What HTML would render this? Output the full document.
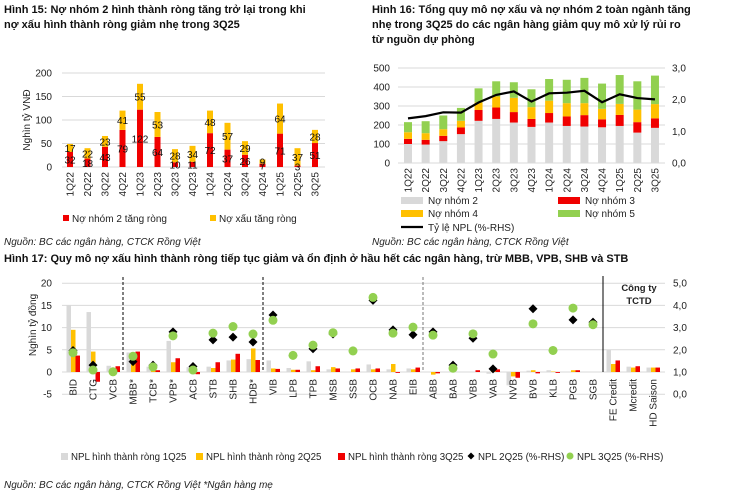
<!DOCTYPE html>
<html><head><meta charset="utf-8"><style>
body{margin:0;background:#fff;width:737px;height:493px;overflow:hidden;font-family:"Liberation Sans",sans-serif}
svg{position:absolute;left:0;top:0}
</style></head><body>
<svg id="s" width="737" height="493" xmlns="http://www.w3.org/2000/svg" font-family="Liberation Sans, sans-serif">
<g font-weight="bold" font-size="11" fill="#111">
<text x="4" y="13">Hình 15: Nợ nhóm 2 hình thành ròng tăng trở lại trong khi</text>
<text x="4" y="28">nợ xấu hình thành ròng giảm nhẹ trong 3Q25</text>
<text x="372" y="13">Hình 16: Tổng quy mô nợ xấu và nợ nhóm 2 toàn ngành tăng</text>
<text x="372" y="28">nhẹ trong 3Q25 do các ngân hàng giảm quy mô xử lý rủi ro</text>
<text x="372" y="43">từ nguồn dự phòng</text>
<text x="4" y="262">Hình 17: Quy mô nợ xấu hình thành ròng tiếp tục giảm và ổn định ở hầu hết các ngân hàng, trừ MBB, VPB, SHB và STB</text>
</g>
<g font-style="italic" font-size="10" fill="#222">
<text x="4" y="245">Nguồn: BC các ngân hàng, CTCK Rồng Việt</text>
<text x="372" y="245">Nguồn: BC các ngân hàng, CTCK Rồng Việt</text>
<text x="4" y="488">Nguồn: BC các ngân hàng, CTCK Rồng Việt *Ngân hàng mẹ</text>
</g>
<g id="g"></g>
</svg>
<script>
var g=document.getElementById('g'),h='';
function R(x,y,w,hh,c){if(hh<0){y+=hh;hh=-hh;}h+='<rect x="'+x+'" y="'+y+'" width="'+w+'" height="'+hh+'" fill="'+c+'"/>';}
function T(x,y,t,o){o=o||{};h+='<text x="'+x+'" y="'+y+'" font-size="'+(o.s||10)+'" fill="'+(o.c||'#222')+'" text-anchor="'+(o.a||'start')+'"'+(o.r?' transform="rotate(-90 '+x+' '+y+')"':'')+(o.b?' font-weight="bold"':'')+'>'+t+'</text>';}
function L(x1,y1,x2,y2,c,w,d){h+='<line x1="'+x1+'" y1="'+y1+'" x2="'+x2+'" y2="'+y2+'" stroke="'+c+'" stroke-width="'+(w||1)+'"'+(d?' stroke-dasharray="'+d+'"':'')+'/>';}
var Q=['1Q22','2Q22','3Q22','4Q22','1Q23','2Q23','3Q23','4Q23','1Q24','2Q24','3Q24','4Q24','1Q25','2Q25','3Q25'];
// chart 15
var y0=167,k=0.47;
for(var i=0;i<=4;i++){var y=y0-i*50*k;L(62,y,325,y,'#d9d9d9');T(52,y+3.5,i*50,{a:'end'});}
T(30,120,'Nghìn tỷ VNĐ',{r:1,a:'middle'});
var r1=[32,18,43,79,122,64,10,11,72,37,26,7,71,3,51],y1=[17,22,23,41,55,53,28,34,48,57,29,9,64,37,28];
for(i=0;i<15;i++){var x=70+i*17.5;R(x-3,y0-r1[i]*k,6,r1[i]*k,'#f00000');R(x-3,y0-(r1[i]+y1[i])*k,6,y1[i]*k,'#ffc000');
T(x,y0-r1[i]*k/2+4,r1[i],{a:'middle',c:'#111'});T(x,y0-(r1[i]+y1[i]/2)*k+4,y1[i],{a:'middle',c:'#111'});
T(x+3.5,172,Q[i],{r:1,a:'end'});}
R(63,215,6,6,'#f00000');T(72,222,'Nợ nhóm 2 tăng ròng');R(210,215,6,6,'#ffc000');T(219,222,'Nợ xấu tăng ròng');
// chart 16
y0=163;k=0.19;
for(i=0;i<=5;i++){y=y0-i*100*k;L(398,y,665,y,'#d9d9d9');T(390,y+3.5,i*100,{a:'end'});}
for(i=0;i<=3;i++){y=y0-i*95/3;T(672,y+3.5,i+',0',{});}
var n2=[100,97,115,152,222,232,213,190,213,195,192,188,195,160,185],n3=[27,25,28,35,57,60,55,42,50,50,60,42,58,55,50],n4=[35,35,35,35,40,58,75,62,65,70,63,55,58,66,75],tot=[215,220,250,290,393,430,425,388,442,438,448,418,463,430,460],npl=[1.41,1.48,1.6,1.59,1.91,2.15,2.26,1.94,2.2,2.22,2.28,1.92,2.17,2.05,2.01];
var pts=[];
for(i=0;i<15;i++){x=408+i*17.64;var a=n2[i],b=a+n3[i],c=b+n4[i],d=tot[i];
R(x-4,y0-a*k,8,a*k,'#d9d9d9');R(x-4,y0-b*k,8,n3[i]*k,'#f00000');R(x-4,y0-c*k,8,n4[i]*k,'#ffc000');R(x-4,y0-d*k,8,(d-c)*k,'#92d050');
pts.push(x+','+(y0-npl[i]*95/3));T(x+3.5,168,Q[i],{r:1,a:'end'});}
h+='<polyline points="'+pts.join(' ')+'" fill="none" stroke="#000" stroke-width="2.2"/>';
R(401,197,22,7,'#d9d9d9');T(428,204,'Nợ nhóm 2');R(558,197,22,7,'#f00000');T(585,204,'Nợ nhóm 3');
R(401,210,22,7,'#ffc000');T(428,217,'Nợ nhóm 4');R(558,210,22,7,'#92d050');T(585,217,'Nợ nhóm 5');
L(401,227,423,227,'#000',2.2);T(428,231,'Tỷ lệ NPL (%-RHS)');
// chart 17
y0=372;k=4.44;
for(i=-1;i<=4;i++){y=y0-i*5*k;L(62,y,665,y,'#d9d9d9');T(52,y+3.5,i*5,{a:'end'});T(673,y+3.5,(i+1).toFixed(1).replace('.',','),{});}
T(36,325,'Nghìn tỷ đồng',{r:1,a:'middle'});
var N=['BID','CTG','VCB','MBB*','TCB*','VPB*','ACB','STB','SHB','HDB*','VIB','LPB','TPB','MSB','SSB','OCB','NAB','EIB','ABB','BAB','VBB','VAB','NVB','BVB','KLB','PGB','SGB','FE Credit','Mcredit','HD Saison'];
var D=[[15,9.5,3.7],[13.5,4.6,-2.2],[1.4,0.2,1.3],[4.4,4.2,4.6],[1.2,0.8,0.4],[7,2.2,3.1],[1.1,0.3,-0.5],[1.2,0.9,2.2],[2.6,2.8,4.1],[2.9,5.3,2.7],[2.6,0.8,0.7],[0.9,0.5,0.5],[2.4,0.4,1.3],[0.6,1.1,0.8],[0,0.6,0.8],[1.7,0.6,0.8],[0.6,1.8,-0.2],[0.8,0.6,1],[0,-0.6,-0.3],[0,0,0],[0,0,0.4],[-0.4,0.2,0.6],[-3,-1,-1.3],[0.3,0.4,-0.3],[0.4,0.1,-0.2],[0,0.4,0.4],[0,0,0],[5,1.8,2.6],[1.2,1,1.3],[1,1,1]];
var DI=[1.96,1.3,1,1.46,1.3,2.8,1.24,2.44,2.56,2.34,3.56,1.74,2.04,2.7,1.94,4.22,2.89,2.67,2.8,1.3,2.51,1.13,null,3.84,1.96,3.34,3.24];
var GR=[1.86,1.08,1,1.7,1.22,2.62,1.08,2.74,3.04,2.7,3.32,1.74,2.2,2.76,1.94,4.35,2.74,3.01,2.65,1.16,2.71,1.8,null,3.16,1.96,3.87,3.12];
for(i=0;i<30;i++){x=73+i*20;var v=D[i];
R(x-6.5,y0-v[0]*k,4.5,v[0]*k,'#d9d9d9');R(x-2,y0-v[1]*k,4.5,v[1]*k,'#ffc000');R(x+2.5,y0-v[2]*k,4.5,v[2]*k,'#f00000');
T(x+3.5,379,N[i],{r:1,a:'end'});}
for(i=0;i<27;i++){if(DI[i]==null)continue;x=73+i*20;y=394-DI[i]*22.2;
h+='<polygon points="'+x+','+(y-4.5)+' '+(x+4.5)+','+y+' '+x+','+(y+4.5)+' '+(x-4.5)+','+y+'" fill="#000"/>';
h+='<circle cx="'+x+'" cy="'+(394-GR[i]*22.2)+'" r="4.5" fill="#92d050"/>';}
L(123,277,123,372,'#000',1,'3,2');L(263,277,263,372,'#000',1,'3,2');L(423,277,423,372,'#777',1,'3,2');L(603,276,603,372,'#000',1);
T(639,291,'Công ty',{a:'middle',b:1,s:9.5});T(639,304,'TCTD',{a:'middle',b:1,s:9.5});
R(61,453,7,7,'#d9d9d9');T(71,460,'NPL hình thành ròng 1Q25',{s:9.7});R(196,453,7,7,'#ffc000');T(206,460,'NPL hình thành ròng 2Q25',{s:9.7});
R(338,453,7,7,'#f00000');T(348,460,'NPL hình thành ròng 3Q25',{s:9.7});
h+='<polygon points="471,452.5 474.5,456 471,459.5 467.5,456" fill="#000"/>';T(478,460,'NPL 2Q25 (%-RHS)',{s:9.7});
h+='<circle cx="570" cy="456" r="3.5" fill="#92d050"/>';T(577,460,'NPL 3Q25 (%-RHS)',{s:9.7});
g.innerHTML=h;
</script>
</body></html>
